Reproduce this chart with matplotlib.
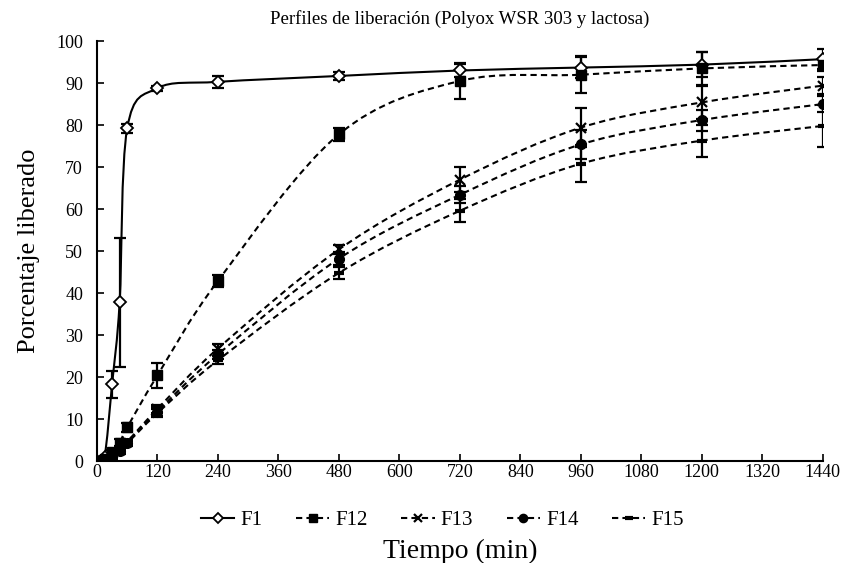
import matplotlib
matplotlib.use("Agg")
import matplotlib.pyplot as plt
from matplotlib.path import Path
from matplotlib.patches import PathPatch
from matplotlib.lines import Line2D
import numpy as np

plt.rcParams['font.family'] = ['Liberation Serif', 'DejaVu Serif']

time_min = [0, 15, 30, 45, 60, 120, 240, 480, 720, 960, 1200, 1440]
x_ticks = [0, 120, 240, 360, 480, 600, 720, 840, 960, 1080, 1200, 1320, 1440]
y_ticks = [0, 10, 20, 30, 40, 50, 60, 70, 80, 90, 100]

f1 = [0, 1.0, 18.3, 37.8, 79.2, 88.8, 90.3, 91.7, 93.0, 93.7, 94.4, 95.7]
f1_err = [0, 0.3, 3.2, 15.3, 1.0, 0.6, 1.4, 0.9, 1.5, 2.6, 3.0, 2.4]
f12 = [0, 0.6, 2.2, 4.4, 8.0, 20.4, 42.9, 77.8, 90.5, 92.0, 93.5, 94.3]
f12_err = [0, 0.2, 0.5, 0.8, 1.0, 2.9, 1.5, 1.5, 4.4, 4.4, 4.0, 1.5]
f13 = [0, 0.3, 1.0, 2.6, 4.6, 12.4, 26.8, 50.4, 67.0, 79.4, 85.4, 89.4]
f13_err = [0, 0, 0.3, 0.5, 0.5, 1.0, 1.0, 1.0, 3.0, 4.7, 4.0, 2.0]
f14 = [0, 0.3, 1.0, 2.4, 4.4, 11.8, 25.4, 48.2, 63.4, 75.4, 81.2, 85.0]
f14_err = [0, 0, 0.3, 0.5, 0.5, 1.0, 1.0, 1.5, 2.0, 3.5, 2.5, 2.0]
f15 = [0, 0.2, 0.8, 2.2, 4.2, 11.4, 24.0, 44.8, 59.6, 70.8, 76.3, 79.8]
f15_err = [0, 0, 0.3, 0.5, 0.5, 1.0, 1.0, 1.5, 2.7, 4.4, 3.8, 5.0]

series = [
    ("F1", f1, f1_err, dict(marker='D', markersize=6, markerfacecolor='white',
                            markeredgecolor='black', markeredgewidth=1.3), '-'),
    ("F12", f12, f12_err, dict(marker='s', markersize=7, markerfacecolor='black',
                               markeredgecolor='black'), (0, (3, 2))),
    ("F13", f13, f13_err, dict(marker='x', markersize=7, markeredgecolor='black',
                               markeredgewidth=1.6), (0, (3, 2))),
    ("F14", f14, f14_err, dict(marker='o', markersize=7, markerfacecolor='black',
                               markeredgecolor='black'), (0, (3, 2))),
    ("F15", f15, f15_err, dict(marker='_', markersize=7, markeredgecolor='black',
                               markeredgewidth=3), (0, (3, 2))),
]


def smooth_path(xs, ys):
    pts = np.column_stack([xs, ys]).astype(float)
    n = len(pts)
    verts = [pts[0]]
    codes = [Path.MOVETO]
    for i in range(n - 1):
        p0 = pts[i - 1] if i > 0 else pts[i]
        p1 = pts[i]
        p2 = pts[i + 1]
        p3 = pts[i + 2] if i + 2 < n else pts[i + 1]
        c1 = p1 + (p2 - p0) / 6.0
        c2 = p2 - (p3 - p1) / 6.0
        verts += [c1, c2, p2]
        codes += [Path.CURVE4] * 3
    return Path(verts, codes)


fig = plt.figure(figsize=(8.43, 5.63), dpi=100)
ax = fig.add_axes([0.115, 0.181, 0.861, 0.746])

handles = []
for name, vals, err, mk, ls in series:
    ax.add_patch(PathPatch(smooth_path(time_min, vals), facecolor='none',
                           edgecolor='black', linewidth=1.5, linestyle=ls,
                           zorder=2))
    ax.errorbar(time_min, vals, yerr=err, fmt='none', ecolor='black',
                elinewidth=1.6, capsize=4, capthick=1.6, zorder=3)
    ax.plot(time_min, vals, linestyle='none', zorder=4, **mk)
    hmk = dict(mk)
    hmk['markersize'] = mk['markersize'] * 0.85
    handles.append(Line2D([0], [0], color='black', linewidth=1.5,
                          linestyle=ls, **hmk))

ax.set_xlim(0, 1440)
ax.set_ylim(0, 100)
ax.set_xticks(x_ticks)
ax.set_yticks(y_ticks)
ax.tick_params(axis='both', direction='in', length=5, width=1.2,
               labelsize=13, colors='black')
ax.tick_params(axis='x', pad=2)
ax.tick_params(axis='y', pad=10)
for s in ['top', 'right']:
    ax.spines[s].set_visible(False)
for s in ['left', 'bottom']:
    ax.spines[s].set_linewidth(1.5)

ax.set_title("Perfiles de liberación (Polyox WSR 303 y lactosa)", fontsize=13.5,
             pad=12)
ax.set_ylabel("Porcentaje liberado", fontsize=19, labelpad=12)
ax.set_xlabel("Tiempo (min)", fontsize=20, labelpad=42)

fig.legend(handles, [s[0] for s in series], loc='center',
           bbox_to_anchor=(0.525, 0.076), ncol=5, frameon=False, fontsize=15,
           handlelength=1.6, columnspacing=1.6, handletextpad=0.3)

fig.savefig("out.png", dpi=100)
